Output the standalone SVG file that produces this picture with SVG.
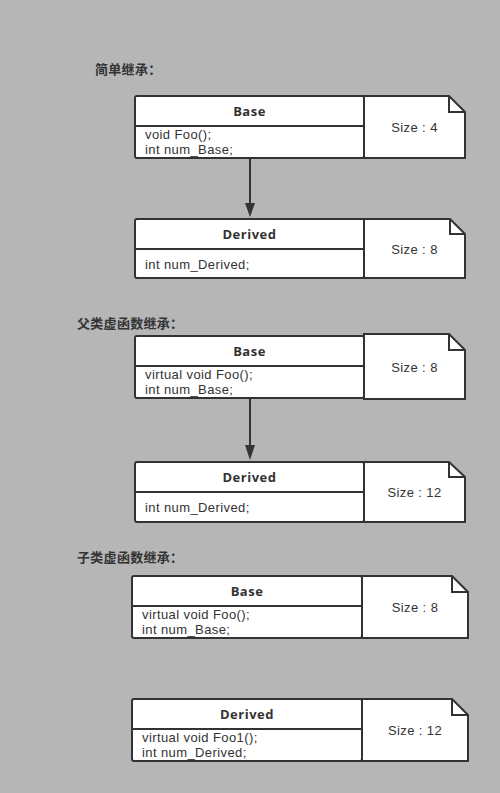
<svg xmlns="http://www.w3.org/2000/svg" width="500" height="793" viewBox="0 0 500 793">
<defs>
<style>
.box{fill:#fff;stroke:#333;stroke-width:2}
.ln{stroke:#333;stroke-width:2;fill:none}
.t{font-family:"Liberation Sans",Arial,sans-serif;font-size:13px;fill:#333;letter-spacing:0.4px}
.b{font-family:"Open Sans","Noto Sans","Liberation Sans",sans-serif;font-size:13px;font-weight:bold;fill:#333;text-anchor:middle;letter-spacing:0.5px}
.c{text-anchor:middle}
.h{font-family:"Noto Sans CJK SC",sans-serif;font-size:13px;font-weight:bold;fill:#333;letter-spacing:0.3px}
</style>
</defs>
<rect width="500" height="793" fill="#b6b6b6"/>

<text class="h" x="95" y="74">简单继承：</text>
<text class="h" x="77" y="328">父类虚函数继承：</text>
<text class="h" x="77" y="562">子类虚函数继承：</text>

<g id="connectors">
<line class="ln" x1="250" y1="158" x2="250" y2="204"/>
<path d="M245,203 L255,203 L250,217 Z" fill="#333"/>
<line class="ln" x1="250" y1="399" x2="250" y2="446"/>
<path d="M245,445 L255,445 L250,460 Z" fill="#333"/>
</g>

<g id="s1-base">
<rect class="box" x="135" y="96" width="229" height="62" rx="2"/>
<line class="ln" x1="135" y1="126" x2="364" y2="126"/>
<text class="b" x="249.5" y="116">Base</text>
<text class="t" x="145" y="139">void Foo();</text>
<text class="t" x="145" y="154">int num_Base;</text>
</g>
<g id="s1-base-note">
<path class="box" d="M364,96 L449,96 L465,112 L465,158 L364,158 Z"/>
<path class="ln" d="M449,96 L449,112 L465,112"/>
<text class="t c" x="414.5" y="132">Size : 4</text>
</g>

<g id="s1-derived">
<rect class="box" x="135" y="219" width="229" height="59" rx="2"/>
<line class="ln" x1="135" y1="249" x2="364" y2="249"/>
<text class="b" x="249.5" y="239">Derived</text>
<text class="t" x="145" y="269">int num_Derived;</text>
</g>
<g id="s1-derived-note">
<path class="box" d="M364,219 L450,219 L465,234 L465,278 L364,278 Z"/>
<path class="ln" d="M450,219 L450,234 L465,234"/>
<text class="t c" x="414.5" y="254">Size : 8</text>
</g>

<g id="s2-base">
<rect class="box" x="135" y="336" width="229" height="62" rx="2"/>
<line class="ln" x1="135" y1="366" x2="364" y2="366"/>
<text class="b" x="249.5" y="356">Base</text>
<text class="t" x="145" y="379">virtual void Foo();</text>
<text class="t" x="145" y="394">int num_Base;</text>
</g>
<g id="s2-base-note">
<path class="box" d="M364,334 L449,334 L465,350 L465,399 L364,399 Z"/>
<path class="ln" d="M449,334 L449,350 L465,350"/>
<text class="t c" x="414.5" y="372">Size : 8</text>
</g>

<g id="s2-derived">
<rect class="box" x="135" y="462" width="229" height="60" rx="2"/>
<line class="ln" x1="135" y1="492" x2="364" y2="492"/>
<text class="b" x="249.5" y="482">Derived</text>
<text class="t" x="145" y="512">int num_Derived;</text>
</g>
<g id="s2-derived-note">
<path class="box" d="M364,462 L449,462 L465,477 L465,522 L364,522 Z"/>
<path class="ln" d="M449,462 L449,477 L465,477"/>
<text class="t c" x="414.5" y="497">Size : 12</text>
</g>

<g id="s3-base">
<rect class="box" x="132" y="576" width="230" height="62" rx="2"/>
<line class="ln" x1="132" y1="606" x2="362" y2="606"/>
<text class="b" x="247" y="596">Base</text>
<text class="t" x="142" y="619">virtual void Foo();</text>
<text class="t" x="142" y="634">int num_Base;</text>
</g>
<g id="s3-base-note">
<path class="box" d="M362,576 L452,576 L468,592 L468,638 L362,638 Z"/>
<path class="ln" d="M452,576 L452,592 L468,592"/>
<text class="t c" x="415" y="612">Size : 8</text>
</g>

<g id="s3-derived">
<rect class="box" x="132" y="699" width="230" height="62" rx="2"/>
<line class="ln" x1="132" y1="729" x2="362" y2="729"/>
<text class="b" x="247" y="719">Derived</text>
<text class="t" x="142" y="742">virtual void Foo1();</text>
<text class="t" x="142" y="757">int num_Derived;</text>
</g>
<g id="s3-derived-note">
<path class="box" d="M362,699 L452,699 L468,715 L468,761 L362,761 Z"/>
<path class="ln" d="M452,699 L452,715 L468,715"/>
<text class="t c" x="415" y="735">Size : 12</text>
</g>
</svg>
